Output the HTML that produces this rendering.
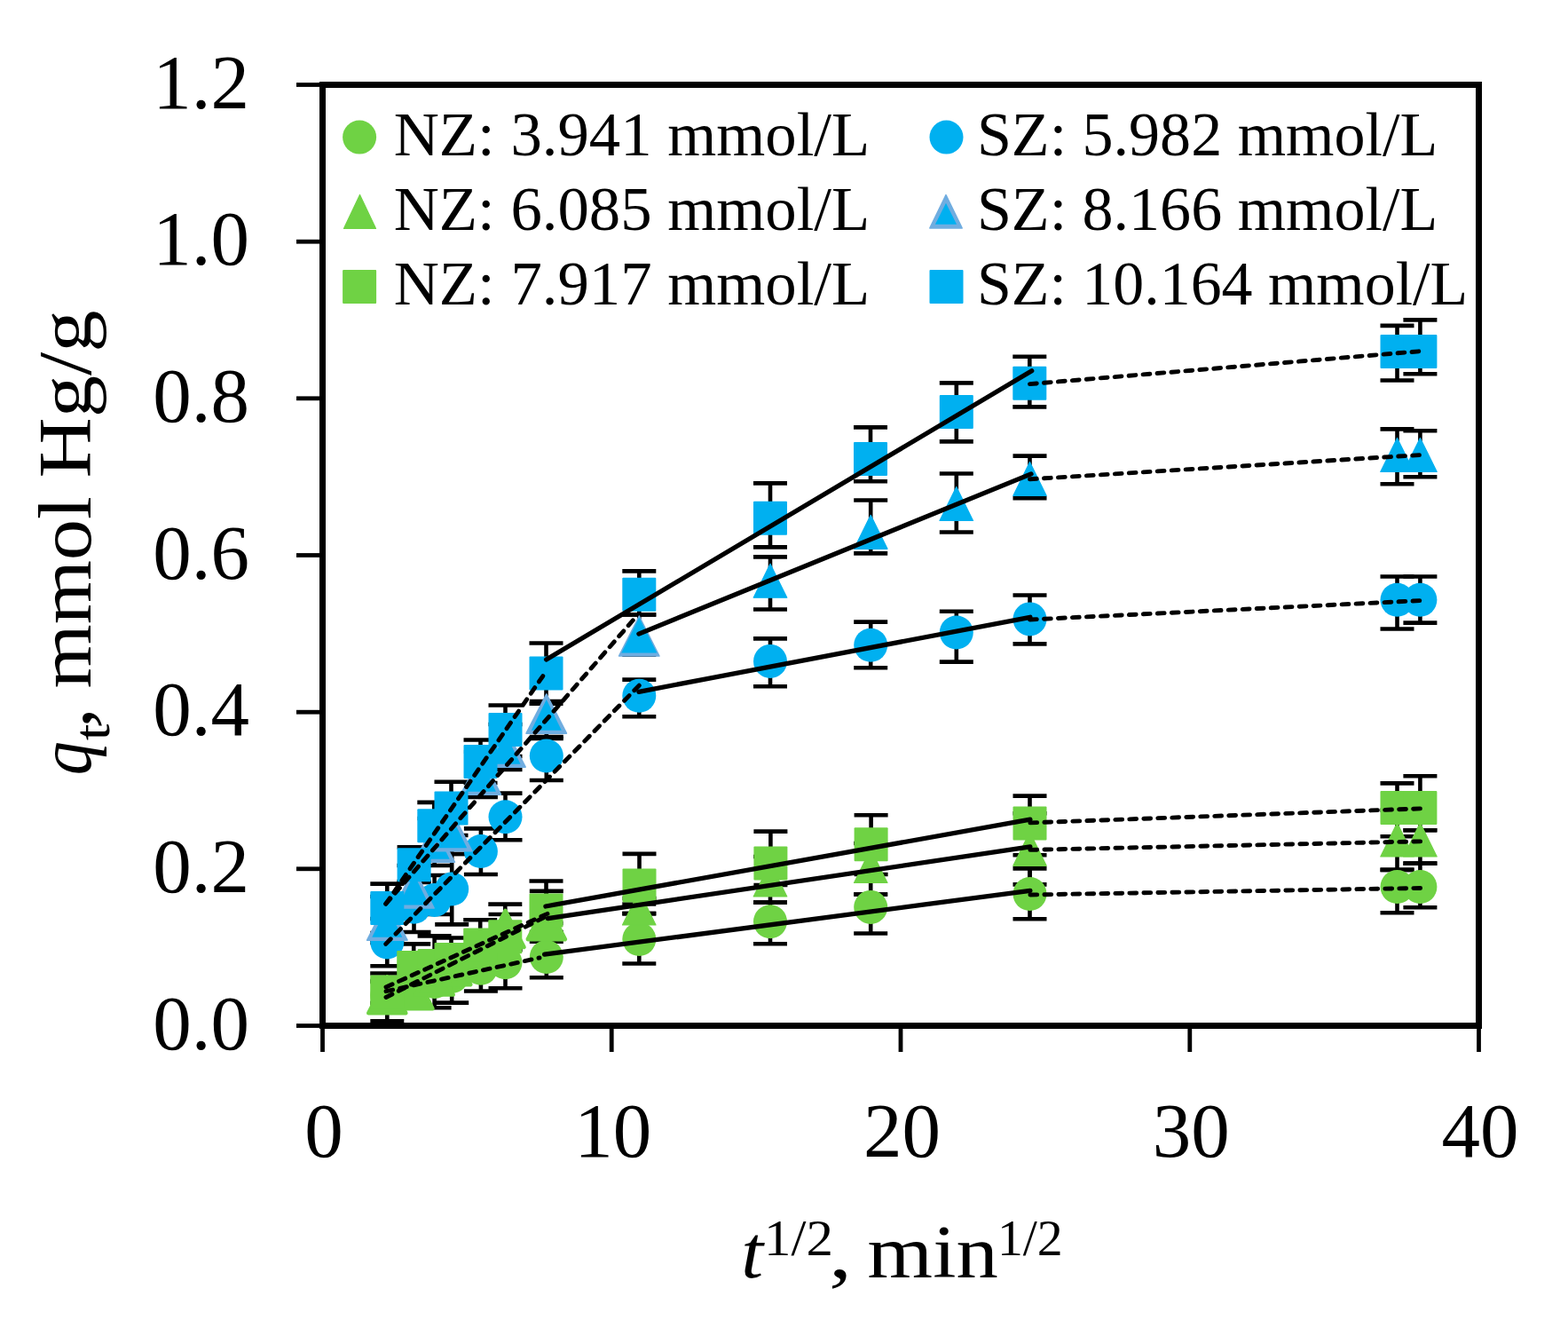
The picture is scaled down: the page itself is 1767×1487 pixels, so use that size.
<!DOCTYPE html>
<html><head><meta charset="utf-8"><title>chart</title>
<style>html,body{margin:0;padding:0;background:#fff;}svg{display:block;}</style>
</head><body>
<svg width="1767" height="1487" viewBox="0 0 1767 1487">
<rect x="0" y="0" width="1767" height="1487" fill="#fff"/>
<g stroke="#000" stroke-linecap="butt"><line x1="436.3" y1="1035" x2="436.3" y2="1088.2" stroke-width="4.6"/><line x1="417.3" y1="1035" x2="455.3" y2="1035" stroke-width="4.6"/><line x1="417.3" y1="1088.2" x2="455.3" y2="1088.2" stroke-width="4.6"/><line x1="466.5" y1="993" x2="466.5" y2="1050" stroke-width="4.6"/><line x1="447.5" y1="993" x2="485.5" y2="993" stroke-width="4.6"/><line x1="447.5" y1="1050" x2="485.5" y2="1050" stroke-width="4.6"/><line x1="489.6" y1="986" x2="489.6" y2="1030" stroke-width="4.6"/><line x1="470.6" y1="986" x2="508.6" y2="986" stroke-width="4.6"/><line x1="470.6" y1="1030" x2="508.6" y2="1030" stroke-width="4.6"/><line x1="509.2" y1="962" x2="509.2" y2="1041.4" stroke-width="4.6"/><line x1="490.2" y1="962" x2="528.2" y2="962" stroke-width="4.6"/><line x1="490.2" y1="1041.4" x2="528.2" y2="1041.4" stroke-width="4.6"/><line x1="541.9" y1="933.4" x2="541.9" y2="985" stroke-width="4.6"/><line x1="522.9" y1="933.4" x2="560.9" y2="933.4" stroke-width="4.6"/><line x1="522.9" y1="985" x2="560.9" y2="985" stroke-width="4.6"/><line x1="569.5" y1="893.6" x2="569.5" y2="946.3" stroke-width="4.6"/><line x1="550.5" y1="893.6" x2="588.5" y2="893.6" stroke-width="4.6"/><line x1="550.5" y1="946.3" x2="588.5" y2="946.3" stroke-width="4.6"/><line x1="615.8" y1="832" x2="615.8" y2="879" stroke-width="4.6"/><line x1="596.8" y1="832" x2="634.8" y2="832" stroke-width="4.6"/><line x1="596.8" y1="879" x2="634.8" y2="879" stroke-width="4.6"/><line x1="720.3" y1="765.6" x2="720.3" y2="807.3" stroke-width="4.6"/><line x1="701.3" y1="765.6" x2="739.3" y2="765.6" stroke-width="4.6"/><line x1="701.3" y1="807.3" x2="739.3" y2="807.3" stroke-width="4.6"/><line x1="868" y1="719.4" x2="868" y2="773.3" stroke-width="4.6"/><line x1="849" y1="719.4" x2="887" y2="719.4" stroke-width="4.6"/><line x1="849" y1="773.3" x2="887" y2="773.3" stroke-width="4.6"/><line x1="981.2" y1="700.6" x2="981.2" y2="752.3" stroke-width="4.6"/><line x1="962.2" y1="700.6" x2="1000.2" y2="700.6" stroke-width="4.6"/><line x1="962.2" y1="752.3" x2="1000.2" y2="752.3" stroke-width="4.6"/><line x1="1077.8" y1="688.7" x2="1077.8" y2="745.6" stroke-width="4.6"/><line x1="1058.8" y1="688.7" x2="1096.8" y2="688.7" stroke-width="4.6"/><line x1="1058.8" y1="745.6" x2="1096.8" y2="745.6" stroke-width="4.6"/><line x1="1160.5" y1="670.5" x2="1160.5" y2="725.4" stroke-width="4.6"/><line x1="1141.5" y1="670.5" x2="1179.5" y2="670.5" stroke-width="4.6"/><line x1="1141.5" y1="725.4" x2="1179.5" y2="725.4" stroke-width="4.6"/><line x1="1574.5" y1="649.5" x2="1574.5" y2="708.5" stroke-width="4.6"/><line x1="1555.5" y1="649.5" x2="1593.5" y2="649.5" stroke-width="4.6"/><line x1="1555.5" y1="708.5" x2="1593.5" y2="708.5" stroke-width="4.6"/><line x1="1600.4" y1="649.5" x2="1600.4" y2="701.6" stroke-width="4.6"/><line x1="1581.4" y1="649.5" x2="1619.4" y2="649.5" stroke-width="4.6"/><line x1="1581.4" y1="701.6" x2="1619.4" y2="701.6" stroke-width="4.6"/><line x1="436.3" y1="1010" x2="436.3" y2="1062" stroke-width="4.6"/><line x1="417.3" y1="1010" x2="455.3" y2="1010" stroke-width="4.6"/><line x1="417.3" y1="1062" x2="455.3" y2="1062" stroke-width="4.6"/><line x1="466.5" y1="975" x2="466.5" y2="1026" stroke-width="4.6"/><line x1="447.5" y1="975" x2="485.5" y2="975" stroke-width="4.6"/><line x1="447.5" y1="1026" x2="485.5" y2="1026" stroke-width="4.6"/><line x1="489.6" y1="922" x2="489.6" y2="975" stroke-width="4.6"/><line x1="470.6" y1="922" x2="508.6" y2="922" stroke-width="4.6"/><line x1="470.6" y1="975" x2="508.6" y2="975" stroke-width="4.6"/><line x1="509.2" y1="910" x2="509.2" y2="962" stroke-width="4.6"/><line x1="490.2" y1="910" x2="528.2" y2="910" stroke-width="4.6"/><line x1="490.2" y1="962" x2="528.2" y2="962" stroke-width="4.6"/><line x1="541.9" y1="847" x2="541.9" y2="898" stroke-width="4.6"/><line x1="522.9" y1="847" x2="560.9" y2="847" stroke-width="4.6"/><line x1="522.9" y1="898" x2="560.9" y2="898" stroke-width="4.6"/><line x1="569.5" y1="816" x2="569.5" y2="867" stroke-width="4.6"/><line x1="550.5" y1="816" x2="588.5" y2="816" stroke-width="4.6"/><line x1="550.5" y1="867" x2="588.5" y2="867" stroke-width="4.6"/><line x1="615.8" y1="790" x2="615.8" y2="830" stroke-width="4.6"/><line x1="596.8" y1="790" x2="634.8" y2="790" stroke-width="4.6"/><line x1="596.8" y1="830" x2="634.8" y2="830" stroke-width="4.6"/><line x1="720.3" y1="692.5" x2="720.3" y2="737.6" stroke-width="4.6"/><line x1="701.3" y1="692.5" x2="739.3" y2="692.5" stroke-width="4.6"/><line x1="701.3" y1="737.6" x2="739.3" y2="737.6" stroke-width="4.6"/><line x1="868" y1="627.4" x2="868" y2="686.5" stroke-width="4.6"/><line x1="849" y1="627.4" x2="887" y2="627.4" stroke-width="4.6"/><line x1="849" y1="686.5" x2="887" y2="686.5" stroke-width="4.6"/><line x1="981.2" y1="563.5" x2="981.2" y2="623.4" stroke-width="4.6"/><line x1="962.2" y1="563.5" x2="1000.2" y2="563.5" stroke-width="4.6"/><line x1="962.2" y1="623.4" x2="1000.2" y2="623.4" stroke-width="4.6"/><line x1="1077.8" y1="533.5" x2="1077.8" y2="599.5" stroke-width="4.6"/><line x1="1058.8" y1="533.5" x2="1096.8" y2="533.5" stroke-width="4.6"/><line x1="1058.8" y1="599.5" x2="1096.8" y2="599.5" stroke-width="4.6"/><line x1="1160.5" y1="513.6" x2="1160.5" y2="561.3" stroke-width="4.6"/><line x1="1141.5" y1="513.6" x2="1179.5" y2="513.6" stroke-width="4.6"/><line x1="1141.5" y1="561.3" x2="1179.5" y2="561.3" stroke-width="4.6"/><line x1="1574.5" y1="483.4" x2="1574.5" y2="545.2" stroke-width="4.6"/><line x1="1555.5" y1="483.4" x2="1593.5" y2="483.4" stroke-width="4.6"/><line x1="1555.5" y1="545.2" x2="1593.5" y2="545.2" stroke-width="4.6"/><line x1="1600.4" y1="485.3" x2="1600.4" y2="537.3" stroke-width="4.6"/><line x1="1581.4" y1="485.3" x2="1619.4" y2="485.3" stroke-width="4.6"/><line x1="1581.4" y1="537.3" x2="1619.4" y2="537.3" stroke-width="4.6"/><line x1="436.3" y1="995.6" x2="436.3" y2="1051" stroke-width="4.6"/><line x1="417.3" y1="995.6" x2="455.3" y2="995.6" stroke-width="4.6"/><line x1="417.3" y1="1051" x2="455.3" y2="1051" stroke-width="4.6"/><line x1="466.6" y1="954.3" x2="466.6" y2="994" stroke-width="4.6"/><line x1="447.6" y1="954.3" x2="485.6" y2="954.3" stroke-width="4.6"/><line x1="447.6" y1="994" x2="485.6" y2="994" stroke-width="4.6"/><line x1="489.3" y1="903.9" x2="489.3" y2="957" stroke-width="4.6"/><line x1="470.3" y1="903.9" x2="508.3" y2="903.9" stroke-width="4.6"/><line x1="470.3" y1="957" x2="508.3" y2="957" stroke-width="4.6"/><line x1="508.5" y1="880.7" x2="508.5" y2="941" stroke-width="4.6"/><line x1="489.5" y1="880.7" x2="527.5" y2="880.7" stroke-width="4.6"/><line x1="489.5" y1="941" x2="527.5" y2="941" stroke-width="4.6"/><line x1="541.5" y1="833.5" x2="541.5" y2="882" stroke-width="4.6"/><line x1="522.5" y1="833.5" x2="560.5" y2="833.5" stroke-width="4.6"/><line x1="522.5" y1="882" x2="560.5" y2="882" stroke-width="4.6"/><line x1="569.5" y1="794.5" x2="569.5" y2="852" stroke-width="4.6"/><line x1="550.5" y1="794.5" x2="588.5" y2="794.5" stroke-width="4.6"/><line x1="550.5" y1="852" x2="588.5" y2="852" stroke-width="4.6"/><line x1="615.5" y1="724.5" x2="615.5" y2="792.7" stroke-width="4.6"/><line x1="596.5" y1="724.5" x2="634.5" y2="724.5" stroke-width="4.6"/><line x1="596.5" y1="792.7" x2="634.5" y2="792.7" stroke-width="4.6"/><line x1="720.3" y1="643.4" x2="720.3" y2="692.5" stroke-width="4.6"/><line x1="701.3" y1="643.4" x2="739.3" y2="643.4" stroke-width="4.6"/><line x1="701.3" y1="692.5" x2="739.3" y2="692.5" stroke-width="4.6"/><line x1="868" y1="544.4" x2="868" y2="616.4" stroke-width="4.6"/><line x1="849" y1="544.4" x2="887" y2="544.4" stroke-width="4.6"/><line x1="849" y1="616.4" x2="887" y2="616.4" stroke-width="4.6"/><line x1="981" y1="481.4" x2="981" y2="542.3" stroke-width="4.6"/><line x1="962" y1="481.4" x2="1000" y2="481.4" stroke-width="4.6"/><line x1="962" y1="542.3" x2="1000" y2="542.3" stroke-width="4.6"/><line x1="1077.8" y1="431.4" x2="1077.8" y2="497.4" stroke-width="4.6"/><line x1="1058.8" y1="431.4" x2="1096.8" y2="431.4" stroke-width="4.6"/><line x1="1058.8" y1="497.4" x2="1096.8" y2="497.4" stroke-width="4.6"/><line x1="1160.3" y1="401.8" x2="1160.3" y2="458.4" stroke-width="4.6"/><line x1="1141.3" y1="401.8" x2="1179.3" y2="401.8" stroke-width="4.6"/><line x1="1141.3" y1="458.4" x2="1179.3" y2="458.4" stroke-width="4.6"/><line x1="1574.5" y1="366.9" x2="1574.5" y2="428.5" stroke-width="4.6"/><line x1="1555.5" y1="366.9" x2="1593.5" y2="366.9" stroke-width="4.6"/><line x1="1555.5" y1="428.5" x2="1593.5" y2="428.5" stroke-width="4.6"/><line x1="1600.4" y1="360.4" x2="1600.4" y2="421.3" stroke-width="4.6"/><line x1="1581.4" y1="360.4" x2="1619.4" y2="360.4" stroke-width="4.6"/><line x1="1581.4" y1="421.3" x2="1619.4" y2="421.3" stroke-width="4.6"/><line x1="436.3" y1="1106" x2="436.3" y2="1150.2" stroke-width="4.6"/><line x1="417.3" y1="1106" x2="455.3" y2="1106" stroke-width="4.6"/><line x1="417.3" y1="1150.2" x2="455.3" y2="1150.2" stroke-width="4.6"/><line x1="466.5" y1="1098" x2="466.5" y2="1130" stroke-width="4.6"/><line x1="447.5" y1="1098" x2="485.5" y2="1098" stroke-width="4.6"/><line x1="447.5" y1="1130" x2="485.5" y2="1130" stroke-width="4.6"/><line x1="489.6" y1="1090" x2="489.6" y2="1135.3" stroke-width="4.6"/><line x1="470.6" y1="1090" x2="508.6" y2="1090" stroke-width="4.6"/><line x1="470.6" y1="1135.3" x2="508.6" y2="1135.3" stroke-width="4.6"/><line x1="509.2" y1="1085" x2="509.2" y2="1129.6" stroke-width="4.6"/><line x1="490.2" y1="1085" x2="528.2" y2="1085" stroke-width="4.6"/><line x1="490.2" y1="1129.6" x2="528.2" y2="1129.6" stroke-width="4.6"/><line x1="541.9" y1="1075" x2="541.9" y2="1116.5" stroke-width="4.6"/><line x1="522.9" y1="1075" x2="560.9" y2="1075" stroke-width="4.6"/><line x1="522.9" y1="1116.5" x2="560.9" y2="1116.5" stroke-width="4.6"/><line x1="569.5" y1="1070" x2="569.5" y2="1113.3" stroke-width="4.6"/><line x1="550.5" y1="1070" x2="588.5" y2="1070" stroke-width="4.6"/><line x1="550.5" y1="1113.3" x2="588.5" y2="1113.3" stroke-width="4.6"/><line x1="615.8" y1="1060.8" x2="615.8" y2="1101.3" stroke-width="4.6"/><line x1="596.8" y1="1060.8" x2="634.8" y2="1060.8" stroke-width="4.6"/><line x1="596.8" y1="1101.3" x2="634.8" y2="1101.3" stroke-width="4.6"/><line x1="720.3" y1="1029.1" x2="720.3" y2="1085.5" stroke-width="4.6"/><line x1="701.3" y1="1029.1" x2="739.3" y2="1029.1" stroke-width="4.6"/><line x1="701.3" y1="1085.5" x2="739.3" y2="1085.5" stroke-width="4.6"/><line x1="868" y1="1016.6" x2="868" y2="1063.3" stroke-width="4.6"/><line x1="849" y1="1016.6" x2="887" y2="1016.6" stroke-width="4.6"/><line x1="849" y1="1063.3" x2="887" y2="1063.3" stroke-width="4.6"/><line x1="981.2" y1="1007.5" x2="981.2" y2="1051.5" stroke-width="4.6"/><line x1="962.2" y1="1007.5" x2="1000.2" y2="1007.5" stroke-width="4.6"/><line x1="962.2" y1="1051.5" x2="1000.2" y2="1051.5" stroke-width="4.6"/><line x1="1160.5" y1="978.4" x2="1160.5" y2="1035.3" stroke-width="4.6"/><line x1="1141.5" y1="978.4" x2="1179.5" y2="978.4" stroke-width="4.6"/><line x1="1141.5" y1="1035.3" x2="1179.5" y2="1035.3" stroke-width="4.6"/><line x1="1574.5" y1="979.9" x2="1574.5" y2="1028.3" stroke-width="4.6"/><line x1="1555.5" y1="979.9" x2="1593.5" y2="979.9" stroke-width="4.6"/><line x1="1555.5" y1="1028.3" x2="1593.5" y2="1028.3" stroke-width="4.6"/><line x1="1600.4" y1="972.6" x2="1600.4" y2="1022.2" stroke-width="4.6"/><line x1="1581.4" y1="972.6" x2="1619.4" y2="972.6" stroke-width="4.6"/><line x1="1581.4" y1="1022.2" x2="1619.4" y2="1022.2" stroke-width="4.6"/><line x1="436.3" y1="1105" x2="436.3" y2="1135" stroke-width="4.6"/><line x1="417.3" y1="1105" x2="455.3" y2="1105" stroke-width="4.6"/><line x1="417.3" y1="1135" x2="455.3" y2="1135" stroke-width="4.6"/><line x1="466.5" y1="1100" x2="466.5" y2="1130" stroke-width="4.6"/><line x1="447.5" y1="1100" x2="485.5" y2="1100" stroke-width="4.6"/><line x1="447.5" y1="1130" x2="485.5" y2="1130" stroke-width="4.6"/><line x1="489.6" y1="1085" x2="489.6" y2="1115" stroke-width="4.6"/><line x1="470.6" y1="1085" x2="508.6" y2="1085" stroke-width="4.6"/><line x1="470.6" y1="1115" x2="508.6" y2="1115" stroke-width="4.6"/><line x1="509.2" y1="1075" x2="509.2" y2="1105" stroke-width="4.6"/><line x1="490.2" y1="1075" x2="528.2" y2="1075" stroke-width="4.6"/><line x1="490.2" y1="1105" x2="528.2" y2="1105" stroke-width="4.6"/><line x1="541.9" y1="1058" x2="541.9" y2="1088" stroke-width="4.6"/><line x1="522.9" y1="1058" x2="560.9" y2="1058" stroke-width="4.6"/><line x1="522.9" y1="1088" x2="560.9" y2="1088" stroke-width="4.6"/><line x1="569.5" y1="1030" x2="569.5" y2="1062" stroke-width="4.6"/><line x1="550.5" y1="1030" x2="588.5" y2="1030" stroke-width="4.6"/><line x1="550.5" y1="1062" x2="588.5" y2="1062" stroke-width="4.6"/><line x1="615.8" y1="1003.9" x2="615.8" y2="1050" stroke-width="4.6"/><line x1="596.8" y1="1003.9" x2="634.8" y2="1003.9" stroke-width="4.6"/><line x1="596.8" y1="1050" x2="634.8" y2="1050" stroke-width="4.6"/><line x1="720.3" y1="1018.5" x2="720.3" y2="1029.1" stroke-width="4.6"/><line x1="701.3" y1="1018.5" x2="739.3" y2="1018.5" stroke-width="4.6"/><line x1="701.3" y1="1029.1" x2="739.3" y2="1029.1" stroke-width="4.6"/><line x1="868" y1="965" x2="868" y2="1016.6" stroke-width="4.6"/><line x1="849" y1="965" x2="887" y2="965" stroke-width="4.6"/><line x1="849" y1="1016.6" x2="887" y2="1016.6" stroke-width="4.6"/><line x1="981.2" y1="950" x2="981.2" y2="1007.5" stroke-width="4.6"/><line x1="962.2" y1="950" x2="1000.2" y2="950" stroke-width="4.6"/><line x1="962.2" y1="1007.5" x2="1000.2" y2="1007.5" stroke-width="4.6"/><line x1="1160.5" y1="916.3" x2="1160.5" y2="996.4" stroke-width="4.6"/><line x1="1141.5" y1="916.3" x2="1179.5" y2="916.3" stroke-width="4.6"/><line x1="1141.5" y1="996.4" x2="1179.5" y2="996.4" stroke-width="4.6"/><line x1="1574.5" y1="912.8" x2="1574.5" y2="979.9" stroke-width="4.6"/><line x1="1555.5" y1="912.8" x2="1593.5" y2="912.8" stroke-width="4.6"/><line x1="1555.5" y1="979.9" x2="1593.5" y2="979.9" stroke-width="4.6"/><line x1="1600.4" y1="935.3" x2="1600.4" y2="972.6" stroke-width="4.6"/><line x1="1581.4" y1="935.3" x2="1619.4" y2="935.3" stroke-width="4.6"/><line x1="1581.4" y1="972.6" x2="1619.4" y2="972.6" stroke-width="4.6"/><line x1="436.2" y1="1096.5" x2="436.2" y2="1130" stroke-width="4.6"/><line x1="417.2" y1="1096.5" x2="455.2" y2="1096.5" stroke-width="4.6"/><line x1="417.2" y1="1130" x2="455.2" y2="1130" stroke-width="4.6"/><line x1="466.2" y1="1063.4" x2="466.2" y2="1105" stroke-width="4.6"/><line x1="447.2" y1="1063.4" x2="485.2" y2="1063.4" stroke-width="4.6"/><line x1="447.2" y1="1105" x2="485.2" y2="1105" stroke-width="4.6"/><line x1="489.6" y1="1054.4" x2="489.6" y2="1100" stroke-width="4.6"/><line x1="470.6" y1="1054.4" x2="508.6" y2="1054.4" stroke-width="4.6"/><line x1="470.6" y1="1100" x2="508.6" y2="1100" stroke-width="4.6"/><line x1="508.5" y1="1056.5" x2="508.5" y2="1095" stroke-width="4.6"/><line x1="489.5" y1="1056.5" x2="527.5" y2="1056.5" stroke-width="4.6"/><line x1="489.5" y1="1095" x2="527.5" y2="1095" stroke-width="4.6"/><line x1="541.2" y1="1036.3" x2="541.2" y2="1080" stroke-width="4.6"/><line x1="522.2" y1="1036.3" x2="560.2" y2="1036.3" stroke-width="4.6"/><line x1="522.2" y1="1080" x2="560.2" y2="1080" stroke-width="4.6"/><line x1="569.3" y1="1018.6" x2="569.3" y2="1070" stroke-width="4.6"/><line x1="550.3" y1="1018.6" x2="588.3" y2="1018.6" stroke-width="4.6"/><line x1="550.3" y1="1070" x2="588.3" y2="1070" stroke-width="4.6"/><line x1="615.5" y1="992.5" x2="615.5" y2="1040" stroke-width="4.6"/><line x1="596.5" y1="992.5" x2="634.5" y2="992.5" stroke-width="4.6"/><line x1="596.5" y1="1040" x2="634.5" y2="1040" stroke-width="4.6"/><line x1="720.5" y1="961.9" x2="720.5" y2="1012" stroke-width="4.6"/><line x1="701.5" y1="961.9" x2="739.5" y2="961.9" stroke-width="4.6"/><line x1="701.5" y1="1012" x2="739.5" y2="1012" stroke-width="4.6"/><line x1="868.4" y1="936.6" x2="868.4" y2="997" stroke-width="4.6"/><line x1="849.4" y1="936.6" x2="887.4" y2="936.6" stroke-width="4.6"/><line x1="849.4" y1="997" x2="887.4" y2="997" stroke-width="4.6"/><line x1="981.6" y1="918.3" x2="981.6" y2="985" stroke-width="4.6"/><line x1="962.6" y1="918.3" x2="1000.6" y2="918.3" stroke-width="4.6"/><line x1="962.6" y1="985" x2="1000.6" y2="985" stroke-width="4.6"/><line x1="1160.5" y1="896.6" x2="1160.5" y2="963.3" stroke-width="4.6"/><line x1="1141.5" y1="896.6" x2="1179.5" y2="896.6" stroke-width="4.6"/><line x1="1141.5" y1="963.3" x2="1179.5" y2="963.3" stroke-width="4.6"/><line x1="1574.5" y1="882.4" x2="1574.5" y2="942.3" stroke-width="4.6"/><line x1="1555.5" y1="882.4" x2="1593.5" y2="882.4" stroke-width="4.6"/><line x1="1555.5" y1="942.3" x2="1593.5" y2="942.3" stroke-width="4.6"/><line x1="1600.4" y1="874.3" x2="1600.4" y2="935.3" stroke-width="4.6"/><line x1="1581.4" y1="874.3" x2="1619.4" y2="874.3" stroke-width="4.6"/><line x1="1581.4" y1="935.3" x2="1619.4" y2="935.3" stroke-width="4.6"/></g>
<circle cx="436.3" cy="1061.5" r="19" fill="#00B0F0"/><circle cx="466.5" cy="1021.7" r="19" fill="#00B0F0"/><circle cx="489.6" cy="1014" r="19" fill="#00B0F0"/><circle cx="509.2" cy="1001.5" r="19" fill="#00B0F0"/><circle cx="541.9" cy="959" r="19" fill="#00B0F0"/><circle cx="569.5" cy="920.2" r="19" fill="#00B0F0"/><circle cx="615.8" cy="851.5" r="19" fill="#00B0F0"/><circle cx="720.3" cy="783.7" r="19" fill="#00B0F0"/><circle cx="868" cy="744.9" r="19" fill="#00B0F0"/><circle cx="981.2" cy="726.8" r="19" fill="#00B0F0"/><circle cx="1077.8" cy="712.5" r="19" fill="#00B0F0"/><circle cx="1160.5" cy="697.4" r="19" fill="#00B0F0"/><circle cx="1574.5" cy="675.8" r="19" fill="#00B0F0"/><circle cx="1600.4" cy="675.8" r="19" fill="#00B0F0"/>
<polygon points="436.3,1014.8 459.1,1059.2 413.6,1059.2" fill="#70ADE0" stroke="#70ADE0" stroke-width="1.5" stroke-linejoin="round"/><polygon points="436.3,1021.1 453.3,1055.8 419.3,1055.8" fill="#00B0F0"/><polygon points="466.5,978.5 489.2,1023 443.8,1023" fill="#70ADE0" stroke="#70ADE0" stroke-width="1.5" stroke-linejoin="round"/><polygon points="466.5,984.8 483.5,1019.5 449.5,1019.5" fill="#00B0F0"/><polygon points="489.6,926.8 512.4,971.2 466.9,971.2" fill="#70ADE0" stroke="#70ADE0" stroke-width="1.5" stroke-linejoin="round"/><polygon points="489.6,933.1 506.6,967.8 472.6,967.8" fill="#00B0F0"/><polygon points="509.2,914.2 532,958.8 486.4,958.8" fill="#70ADE0" stroke="#70ADE0" stroke-width="1.5" stroke-linejoin="round"/><polygon points="509.2,920.6 526.2,955.3 492.2,955.3" fill="#00B0F0"/><polygon points="541.9,850.8 564.6,895.2 519.1,895.2" fill="#70ADE0" stroke="#70ADE0" stroke-width="1.5" stroke-linejoin="round"/><polygon points="541.9,857.1 558.9,891.8 524.9,891.8" fill="#00B0F0"/><polygon points="569.5,819.8 592.2,864.2 546.8,864.2" fill="#70ADE0" stroke="#70ADE0" stroke-width="1.5" stroke-linejoin="round"/><polygon points="569.5,826.1 586.5,860.8 552.5,860.8" fill="#00B0F0"/><polygon points="615.8,781.8 638.5,826.2 593,826.2" fill="#70ADE0" stroke="#70ADE0" stroke-width="1.5" stroke-linejoin="round"/><polygon points="615.8,788.1 632.8,822.8 598.8,822.8" fill="#00B0F0"/><polygon points="720.3,694 743,739 697.5,739" fill="#70ADE0" stroke="#70ADE0" stroke-width="1.5" stroke-linejoin="round"/><polygon points="720.3,695.5 740.3,735.5 700.3,735.5" fill="#00B0F0"/><polygon points="868,635.2 886.8,673.2 849.2,673.2" fill="#00B0F0" stroke="#00B0F0" stroke-width="1.2" stroke-linejoin="round"/><polygon points="981.2,580.3 1000,618.3 962.5,618.3" fill="#00B0F0" stroke="#00B0F0" stroke-width="1.2" stroke-linejoin="round"/><polygon points="1077.8,548.4 1096.5,586.4 1059,586.4" fill="#00B0F0" stroke="#00B0F0" stroke-width="1.2" stroke-linejoin="round"/><polygon points="1160.5,520.4 1179.2,558.4 1141.8,558.4" fill="#00B0F0" stroke="#00B0F0" stroke-width="1.2" stroke-linejoin="round"/><polygon points="1574.5,493.4 1593.2,531.4 1555.8,531.4" fill="#00B0F0" stroke="#00B0F0" stroke-width="1.2" stroke-linejoin="round"/><polygon points="1600.4,493.4 1619.2,531.4 1581.7,531.4" fill="#00B0F0" stroke="#00B0F0" stroke-width="1.2" stroke-linejoin="round"/>
<rect x="417.3" y="1004" width="38" height="38" rx="1" fill="#00B0F0"/><rect x="447.6" y="955.3" width="38" height="38" rx="1" fill="#00B0F0"/><rect x="470.3" y="911.3" width="38" height="38" rx="1" fill="#00B0F0"/><rect x="489.5" y="891.5" width="38" height="38" rx="1" fill="#00B0F0"/><rect x="522.5" y="839" width="38" height="38" rx="1" fill="#00B0F0"/><rect x="550.5" y="803" width="38" height="38" rx="1" fill="#00B0F0"/><rect x="596.5" y="739.6" width="38" height="38" rx="1" fill="#00B0F0"/><rect x="701.3" y="650.7" width="38" height="38" rx="1" fill="#00B0F0"/><rect x="849" y="564.8" width="38" height="38" rx="1" fill="#00B0F0"/><rect x="962" y="497.9" width="38" height="38" rx="1" fill="#00B0F0"/><rect x="1058.8" y="444.9" width="38" height="38" rx="1" fill="#00B0F0"/><rect x="1141.3" y="412.8" width="38" height="38" rx="1" fill="#00B0F0"/><rect x="1555.5" y="376.9" width="38" height="38" rx="1" fill="#00B0F0"/><rect x="1581.4" y="376.9" width="38" height="38" rx="1" fill="#00B0F0"/>
<circle cx="436.3" cy="1121" r="19" fill="#6FD244"/><circle cx="466.5" cy="1113" r="19" fill="#6FD244"/><circle cx="489.6" cy="1106" r="19" fill="#6FD244"/><circle cx="509.2" cy="1100" r="19" fill="#6FD244"/><circle cx="541.9" cy="1090.7" r="19" fill="#6FD244"/><circle cx="569.5" cy="1084.3" r="19" fill="#6FD244"/><circle cx="615.8" cy="1078" r="19" fill="#6FD244"/><circle cx="720.3" cy="1058" r="19" fill="#6FD244"/><circle cx="868" cy="1038.3" r="19" fill="#6FD244"/><circle cx="981.2" cy="1021.9" r="19" fill="#6FD244"/><circle cx="1160.5" cy="1007" r="19" fill="#6FD244"/><circle cx="1574.5" cy="999" r="19" fill="#6FD244"/><circle cx="1600.4" cy="999" r="19" fill="#6FD244"/>
<polygon points="436.3,1100.3 457.3,1141.3 415.3,1141.3" fill="#6FD244" stroke="#6FD244" stroke-width="4.6" stroke-linejoin="round"/><polygon points="466.5,1095.3 487.5,1136.3 445.5,1136.3" fill="#6FD244" stroke="#6FD244" stroke-width="4.6" stroke-linejoin="round"/><polygon points="489.6,1079.5 510.6,1120.5 468.6,1120.5" fill="#6FD244" stroke="#6FD244" stroke-width="4.6" stroke-linejoin="round"/><polygon points="509.2,1068.1 530.2,1109.1 488.2,1109.1" fill="#6FD244" stroke="#6FD244" stroke-width="4.6" stroke-linejoin="round"/><polygon points="541.9,1051.5 562.9,1092.5 520.9,1092.5" fill="#6FD244" stroke="#6FD244" stroke-width="4.6" stroke-linejoin="round"/><polygon points="569.5,1026 590.5,1067 548.5,1067" fill="#6FD244" stroke="#6FD244" stroke-width="4.6" stroke-linejoin="round"/><polygon points="615.8,1017.1 636.8,1058.1 594.8,1058.1" fill="#6FD244" stroke="#6FD244" stroke-width="4.6" stroke-linejoin="round"/><polygon points="720.3,1003.9 739,1041.9 701.5,1041.9" fill="#6FD244" stroke="#6FD244" stroke-width="1.2" stroke-linejoin="round"/><polygon points="868,971.9 886.8,1009.9 849.2,1009.9" fill="#6FD244" stroke="#6FD244" stroke-width="1.2" stroke-linejoin="round"/><polygon points="981.2,956.5 1000,994.5 962.5,994.5" fill="#6FD244" stroke="#6FD244" stroke-width="1.2" stroke-linejoin="round"/><polygon points="1160.5,937.3 1179.2,975.3 1141.8,975.3" fill="#6FD244" stroke="#6FD244" stroke-width="1.2" stroke-linejoin="round"/><polygon points="1574.5,927 1593.2,965 1555.8,965" fill="#6FD244" stroke="#6FD244" stroke-width="1.2" stroke-linejoin="round"/><polygon points="1600.4,927 1619.2,965 1581.7,965" fill="#6FD244" stroke="#6FD244" stroke-width="1.2" stroke-linejoin="round"/>
<rect x="417.2" y="1098.6" width="38" height="38" rx="1" fill="#6FD244"/><rect x="447.2" y="1071" width="38" height="38" rx="1" fill="#6FD244"/><rect x="470.6" y="1069" width="38" height="38" rx="1" fill="#6FD244"/><rect x="489.5" y="1062.1" width="38" height="38" rx="1" fill="#6FD244"/><rect x="522.2" y="1045.4" width="38" height="38" rx="1" fill="#6FD244"/><rect x="550.3" y="1036.3" width="38" height="38" rx="1" fill="#6FD244"/><rect x="596.5" y="1006.4" width="38" height="38" rx="1" fill="#6FD244"/><rect x="701.5" y="978.4" width="38" height="38" rx="1" fill="#6FD244"/><rect x="849.4" y="953.4" width="38" height="38" rx="1" fill="#6FD244"/><rect x="962.6" y="932.2" width="38" height="38" rx="1" fill="#6FD244"/><rect x="1141.5" y="908.5" width="38" height="38" rx="1" fill="#6FD244"/><rect x="1555.5" y="891" width="38" height="38" rx="1" fill="#6FD244"/><rect x="1581.4" y="891" width="38" height="38" rx="1" fill="#6FD244"/>
<g stroke="#000" stroke-width="4.6" fill="none"><line x1="615.6" y1="743" x2="1162.7" y2="417.8" stroke-linecap="round" stroke-width="5.3"/><line x1="719.9" y1="714.1" x2="1162" y2="533.9" stroke-linecap="round" stroke-width="5.3"/><line x1="719.9" y1="779.3" x2="1160.9" y2="695.3" stroke-linecap="round" stroke-width="5.3"/><line x1="614.9" y1="1021" x2="1160.9" y2="923.2" stroke-linecap="round" stroke-width="5.3"/><line x1="617.4" y1="1034.7" x2="1160.9" y2="953.8" stroke-linecap="round" stroke-width="5.3"/><line x1="613.6" y1="1075.2" x2="1160.9" y2="1003.3" stroke-linecap="round" stroke-width="5.3"/><line x1="434.8" y1="1018.2" x2="613" y2="759.8" stroke-dasharray="7.8 8.2" stroke-linecap="round" stroke-width="4.9"/><line x1="434.8" y1="1018.2" x2="715.8" y2="695.9" stroke-dasharray="7.8 8.2" stroke-linecap="round" stroke-width="4.9"/><line x1="434.8" y1="1063.4" x2="721.2" y2="771.2" stroke-dasharray="7.8 8.2" stroke-linecap="round" stroke-width="4.9"/><line x1="1160.5" y1="432.6" x2="1602.6" y2="395.5" stroke-dasharray="7.8 8.2" stroke-linecap="round" stroke-width="4.9"/><line x1="1160.5" y1="539.8" x2="1602.6" y2="512.4" stroke-dasharray="7.8 8.2" stroke-linecap="round" stroke-width="4.9"/><line x1="1160.5" y1="698" x2="1602.8" y2="676.5" stroke-dasharray="7.8 8.2" stroke-linecap="round" stroke-width="4.9"/><line x1="435" y1="1112" x2="618.6" y2="1028.6" stroke-dasharray="7.8 8.2" stroke-linecap="round" stroke-width="4.9"/><line x1="435" y1="1123.5" x2="613" y2="1033.5" stroke-dasharray="7.8 8.2" stroke-linecap="round" stroke-width="4.9"/><line x1="435" y1="1116.7" x2="608" y2="1079" stroke-dasharray="7.8 8.2" stroke-linecap="round" stroke-width="4.9"/><line x1="1160.9" y1="926.9" x2="1603" y2="910.8" stroke-dasharray="7.8 8.2" stroke-linecap="round" stroke-width="4.9"/><line x1="1160.9" y1="957.4" x2="1603" y2="947.8" stroke-dasharray="7.8 8.2" stroke-linecap="round" stroke-width="4.9"/><line x1="1160.9" y1="1008" x2="1603" y2="1000.4" stroke-dasharray="7.8 8.2" stroke-linecap="round" stroke-width="4.9"/></g>
<g stroke="#000"><rect x="363.5" y="95.5" width="1303" height="1060" fill="none" stroke-width="7"/><line x1="334" y1="1155.5" x2="363.5" y2="1155.5" stroke-width="4.8"/><line x1="334" y1="978.8" x2="363.5" y2="978.8" stroke-width="4.8"/><line x1="334" y1="802.2" x2="363.5" y2="802.2" stroke-width="4.8"/><line x1="334" y1="625.5" x2="363.5" y2="625.5" stroke-width="4.8"/><line x1="334" y1="448.8" x2="363.5" y2="448.8" stroke-width="4.8"/><line x1="334" y1="272.2" x2="363.5" y2="272.2" stroke-width="4.8"/><line x1="334" y1="95.5" x2="363.5" y2="95.5" stroke-width="4.8"/><line x1="363.5" y1="1155.5" x2="363.5" y2="1185" stroke-width="4.8"/><line x1="689.2" y1="1155.5" x2="689.2" y2="1185" stroke-width="4.8"/><line x1="1015" y1="1155.5" x2="1015" y2="1185" stroke-width="4.8"/><line x1="1340.8" y1="1155.5" x2="1340.8" y2="1185" stroke-width="4.8"/><line x1="1666.5" y1="1155.5" x2="1666.5" y2="1185" stroke-width="4.8"/></g>
<g font-family="'Liberation Serif', 'DejaVu Serif', serif" font-size="87" fill="#000"><text x="281" y="1181.5" text-anchor="end">0.0</text><text x="281" y="1004.8" text-anchor="end">0.2</text><text x="281" y="828.2" text-anchor="end">0.4</text><text x="281" y="651.5" text-anchor="end">0.6</text><text x="281" y="474.8" text-anchor="end">0.8</text><text x="281" y="298.2" text-anchor="end">1.0</text><text x="281" y="121.5" text-anchor="end">1.2</text><text x="365" y="1302.5" text-anchor="middle">0</text><text x="690.8" y="1302.5" text-anchor="middle">10</text><text x="1016.5" y="1302.5" text-anchor="middle">20</text><text x="1342.2" y="1302.5" text-anchor="middle">30</text><text x="1668" y="1302.5" text-anchor="middle">40</text></g>
<g font-family="'Liberation Serif', 'DejaVu Serif', serif" fill="#000" style="font-kerning:none"><circle cx="405.1" cy="154.6" r="19" fill="#6FD244"/><polygon points="405.5,219.4 423.5,257.4 387.5,257.4" fill="#6FD244" stroke="#6FD244" stroke-width="1.2" stroke-linejoin="round"/><rect x="386.1" y="304" width="38" height="38" rx="1" fill="#6FD244"/><circle cx="1066.5" cy="154.6" r="19" fill="#00B0F0"/><polygon points="1066,219.6 1084.2,257 1047.8,257" fill="#70ADE0" stroke="#70ADE0" stroke-width="1.5" stroke-linejoin="round"/><polygon points="1066,228.8 1078.1,252.8 1053.9,252.8" fill="#00B0F0"/><rect x="1047.5" y="304" width="38" height="38" rx="1" fill="#00B0F0"/><text x="443.76" y="175.2" font-size="70" textLength="536.49" lengthAdjust="spacingAndGlyphs">NZ: 3.941 mmol/L</text><text x="443.76" y="258.6" font-size="70" textLength="536.49" lengthAdjust="spacingAndGlyphs">NZ: 6.085 mmol/L</text><text x="443.76" y="342.8" font-size="70" textLength="536.49" lengthAdjust="spacingAndGlyphs">NZ: 7.917 mmol/L</text><text x="1100.92" y="175" font-size="70" textLength="519.39" lengthAdjust="spacingAndGlyphs">SZ: 5.982 mmol/L</text><text x="1100.92" y="258.6" font-size="70" textLength="519.39" lengthAdjust="spacingAndGlyphs">SZ: 8.166 mmol/L</text><text x="1100.93" y="342.6" font-size="70" textLength="553.27" lengthAdjust="spacingAndGlyphs">SZ: 10.164 mmol/L</text></g>
<g font-family="'Liberation Serif', 'DejaVu Serif', serif" fill="#000" style="font-kerning:none"><text x="835.27" y="1439.20" font-size="85" font-style="italic" textLength="24.84" lengthAdjust="spacingAndGlyphs">t</text><text x="861.05" y="1414.30" font-size="56" textLength="77.81" lengthAdjust="spacingAndGlyphs">1/2</text><text x="934.01" y="1439.20" font-size="85" textLength="26.19" lengthAdjust="spacingAndGlyphs">,</text><text x="977.61" y="1439.20" font-size="85" textLength="147.12" lengthAdjust="spacingAndGlyphs">min</text><text x="1123.92" y="1414.30" font-size="56" textLength="73.87" lengthAdjust="spacingAndGlyphs">1/2</text><g transform="translate(101.6,0) rotate(-90)"><text x="-873.13" y="0.00" font-size="85" font-style="italic" textLength="38.12" lengthAdjust="spacingAndGlyphs">q</text><text x="-834.16" y="21.00" font-size="58" textLength="18.75" lengthAdjust="spacingAndGlyphs">t</text><text x="-820.51" y="0.00" font-size="85" font-style="italic" textLength="23.41" lengthAdjust="spacingAndGlyphs">,</text><text x="-775.45" y="0.00" font-size="85" textLength="216.30" lengthAdjust="spacingAndGlyphs">mmol</text><text x="-538.63" y="0.00" font-size="85" textLength="189.33" lengthAdjust="spacingAndGlyphs">Hg/g</text></g></g>
</svg>
</body></html>
